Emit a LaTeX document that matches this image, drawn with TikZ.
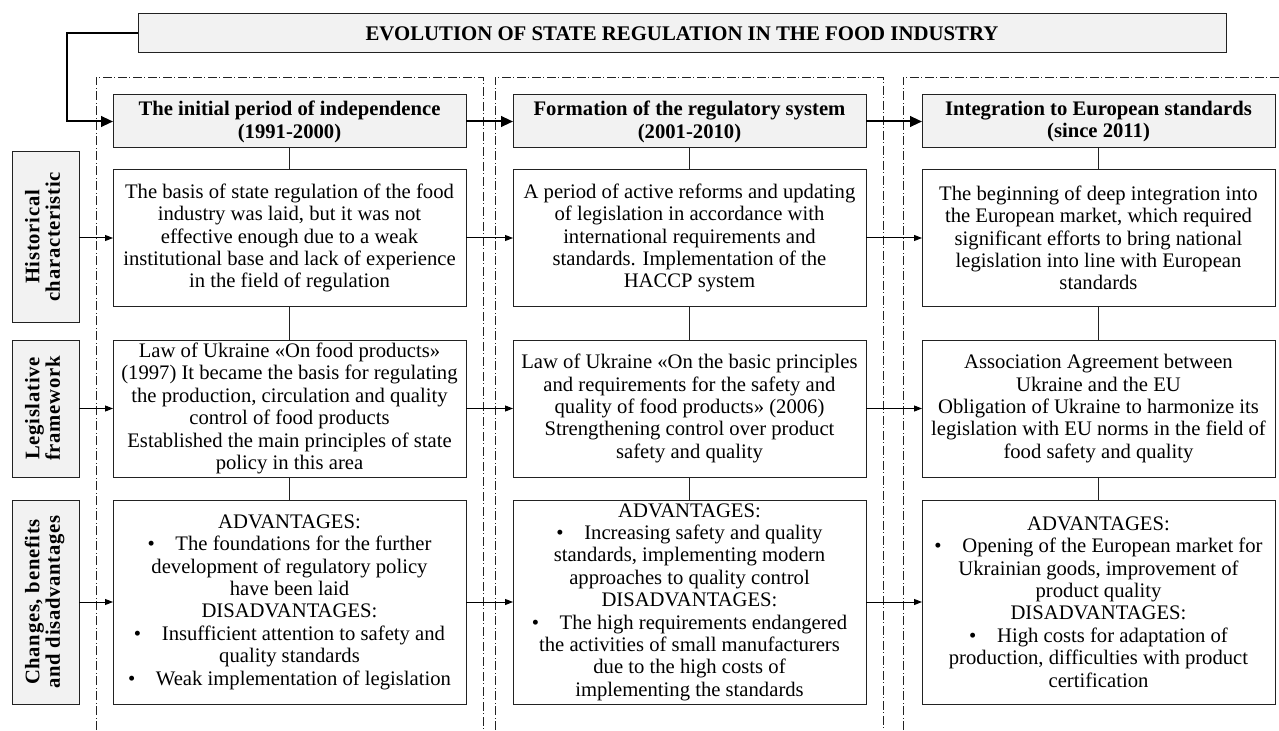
\documentclass[tikz,border=0pt]{standalone}
\usepackage{fontspec}
\setmainfont{Liberation Serif}
\usetikzlibrary{arrows.meta,calc}
\definecolor{boxfill}{HTML}{F2F2F2}
\definecolor{linecol}{HTML}{222222}
\newcommand{\bul}{\textbullet\hspace{1em}}
\newcommand{\vlab}[2]{\rotatebox{90}{\begin{tabular}{@{}c@{}}#1\\#2\end{tabular}}}
\begin{document}
\begin{tikzpicture}[x=0.75pt,y=-0.75pt,
  every node/.style={inner sep=0pt, outer sep=0pt},
  bodybox/.style={draw=linecol, line width=0.75pt, fill=white, align=center,
    minimum width=264.75pt, font=\fontsize{15.5}{16.8}\selectfont},
  headbox/.style={draw=linecol, line width=0.75pt, fill=boxfill, align=center,
    minimum width=264.75pt, minimum height=39.75pt, font=\bfseries\fontsize{15.5}{17.2}\selectfont},
  labbox/.style={draw=linecol, line width=0.75pt, fill=boxfill, minimum width=50.25pt,
    font=\bfseries\fontsize{15.5}{15.4}\selectfont\addfontfeatures{LetterSpace=3.5}},
  colframe/.style={line width=0.6pt, draw=linecol, dash pattern=on 6.5pt off 2pt on 0.75pt off 2pt},
  bigarrow/.style={line width=1.5pt, draw=black, -{Triangle[length=9pt,width=8pt]}},
  smallarrow/.style={line width=0.75pt, draw=black, -{Triangle[length=6pt,width=4.5pt]}},
  link/.style={line width=0.75pt, draw=linecol}
]
\useasboundingbox (0,0) rectangle (1279,731);

% column frames
\draw[colframe] (96,745) -- (96,77) -- (483,77) -- (483,745);
\draw[colframe] (495,745) -- (495,77) -- (883,77) -- (883,745);
\draw[colframe] (903,745) -- (903,77) -- (1300,77) -- (1300,745);

% title
\node[draw=linecol, line width=0.75pt, fill=boxfill, minimum width=816pt, minimum height=29.25pt,
  font=\bfseries\fontsize{15.6}{16.8}\selectfont] (title) at (682,33.5)
  {EVOLUTION OF STATE REGULATION IN THE FOOD INDUSTRY};

% headers
\node[headbox] (h1) at (289.5,121.5) {The initial period of independence\\(1991-2000)};
\node[headbox] (h2) at (689.5,121.5) {Formation of the regulatory system\\(2001-2010)};
\node[headbox] (h3) at (1098.5,121.5) {Integration to European standards\\(since 2011)};

% row labels
\node[labbox, minimum height=127.5pt] (l1) at (45.5,237) {\vlab{Historical}{characteristic}};
\node[labbox, minimum height=102.75pt] (l2) at (45.5,408.5) {\vlab{Legislative}{framework}};
\node[labbox, minimum height=153pt] (l3) at (45.5,602) {\vlab{Changes, benefits}{and disadvantages}};

% row 1
\node[bodybox, minimum height=102pt] (b11) at (289.5,238)
 {The basis of state regulation of the food\\industry was laid, but it was not\\effective enough due to a weak\\institutional base and lack of experience\\in the field of regulation};
\node[bodybox, minimum height=102pt] (b12) at (689.5,238)
 {A period of active reforms and updating\\of legislation in accordance with\\international requirements and\\standards. Implementation of the\\HACCP system};
\node[bodybox, minimum height=102pt] (b13) at (1098.5,238)
 {The beginning of deep integration into\\the European market, which required\\significant efforts to bring national\\legislation into line with European\\standards};

% row 2
\node[bodybox, minimum height=102.75pt] (b21) at (289.5,408.5)
 {Law of Ukraine «On food products»\\(1997) It became the basis for regulating\\the production, circulation and quality\\control of food products\\Established the main principles of state\\policy in this area};
\node[bodybox, minimum height=102.75pt] (b22) at (689.5,408.5)
 {Law of Ukraine «On the basic principles\\and requirements for the safety and\\quality of food products» (2006)\\Strengthening control over product\\safety and quality};
\node[bodybox, minimum height=102.75pt] (b23) at (1098.5,408.5)
 {Association Agreement between\\Ukraine and the EU\\Obligation of Ukraine to harmonize its\\legislation with EU norms in the field of\\food safety and quality};

% row 3
\node[bodybox, minimum height=153pt] (b31) at (289.5,602)
 {ADVANTAGES:\\\bul The foundations for the further\\development of regulatory policy\\have been laid\\DISADVANTAGES:\\\bul Insufficient attention to safety and\\quality standards\\\bul Weak implementation of legislation};
\node[bodybox, minimum height=153pt] (b32) at (689.5,602)
 {ADVANTAGES:\\\bul Increasing safety and quality\\standards, implementing modern\\approaches to quality control\\DISADVANTAGES:\\\bul The high requirements endangered\\the activities of small manufacturers\\due to the high costs of\\implementing the standards};
\node[bodybox, minimum height=153pt] (b33) at (1098.5,602)
 {ADVANTAGES:\\\bul Opening of the European market for\\Ukrainian goods, improvement of\\product quality\\DISADVANTAGES:\\\bul High costs for adaptation of\\production, difficulties with product\\certification};

% title connector
\coordinate (bend) at (67,33.5);
\draw[bigarrow] (title.west) -- (bend) |- (h1.west);

% header arrows
\draw[bigarrow] (h1.east) -- (h2.west);
\draw[bigarrow] (h2.east) -- (h3.west);

% vertical links
\foreach \c in {1,2,3}{
  \draw[link] (h\c) -- (b1\c);
  \draw[link] (b1\c) -- (b2\c);
  \draw[link] (b2\c) -- (b3\c);
}

% row arrows
\foreach \r in {1,2,3}{
  \draw[smallarrow] (l\r.east |- b\r1.west) -- (b\r1.west);
  \draw[smallarrow] (b\r1.east) -- (b\r2.west);
  \draw[smallarrow] (b\r2.east) -- (b\r3.west);
}
\end{tikzpicture}
\end{document}
